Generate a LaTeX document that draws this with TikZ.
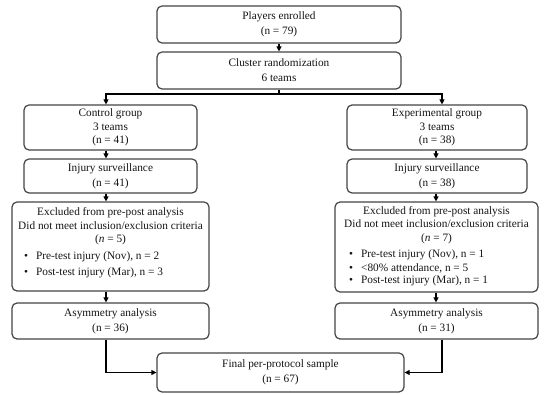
\documentclass[tikz,border=0pt]{standalone}
\usepackage{fontspec}
\setmainfont{Liberation Serif}
\usetikzlibrary{arrows.meta}
\definecolor{boxgray}{HTML}{454545}
\definecolor{txt}{HTML}{151515}
\newcommand{\myfs}{\fontsize{11.3}{15}\selectfont}
\newcommand{\myfsb}{\fontsize{11.3}{13.5}\selectfont}
\begin{document}
\begin{tikzpicture}[x=1pt,y=-1pt,
  box/.style={draw=boxgray, line width=1.2pt, rounded corners=5pt, inner sep=0pt, align=center, font=\myfs, text=txt},
  tline/.style={inner sep=0pt, font=\myfsb, text=txt, align=center},
  bline/.style={inner sep=0pt, font=\myfsb, text=txt, anchor=west},
  arr/.style={line width=1.2pt, draw=black, -{Triangle[length=5pt,width=5pt]}},
  ln/.style={line width=1.2pt, draw=black}
]
\useasboundingbox[fill=white] (0,0) rectangle (550,395);

% boxes
\node[box, minimum width=244pt, minimum height=37pt] (enr) at (279,24.5) {Players enrolled\\(n = 79)};
\node[box, minimum width=244pt, minimum height=37pt] (rand) at (279,70.5) {Cluster randomization\\6 teams};
\node[box, font=\myfsb, minimum width=173pt, minimum height=45pt] (ctrl) at (110.5,127.5) {Control group\\3 teams\\(n = 41)};
\node[box, font=\myfsb, minimum width=180pt, minimum height=45pt] (exp) at (437,127.5) {Experimental group\\3 teams\\(n = 38)};
\node[box, minimum width=173pt, minimum height=34pt] (injL) at (110.5,176) {Injury surveillance\\(n = 41)};
\node[box, minimum width=180pt, minimum height=34pt] (injR) at (437,176) {Injury surveillance\\(n = 38)};
\node[box, minimum width=197pt, minimum height=89pt] (exL) at (110.5,246.5) {};
\node[box, minimum width=203pt, minimum height=90pt] (exR) at (436.5,247) {};
\node[box, minimum width=197pt, minimum height=36pt] (asL) at (110.5,321) {Asymmetry analysis\\(n = 36)};
\node[box, minimum width=203pt, minimum height=36pt] (asR) at (436.5,321) {Asymmetry analysis\\(n = 31)};
\node[box, minimum width=247pt, minimum height=39pt] (fin) at (280.5,372.5) {Final per-protocol sample\\(n = 67)};

% excluded texts
\node[tline] (exLh) at (110.5,226.5) {Excluded from pre-post analysis\\Did not meet inclusion/exclusion criteria\\(\textit{n} = 5)};
\node[bline] (exLb1) at (24,257) {\textbullet\hspace{8pt}Pre-test injury (Nov), n = 2};
\node[bline] (exLb2) at (24,273) {\textbullet\hspace{8pt}Post-test injury (Mar), n = 3};
\node[tline] (exRh) at (436.5,225) {Excluded from pre-post analysis\\Did not meet inclusion/exclusion criteria\\(\textit{n} = 7)};
\node[bline] (exRb1) at (349,255) {\textbullet\hspace{8pt}Pre-test injury (Nov), n = 1};
\node[bline] (exRb2) at (349,268) {\textbullet\hspace{8pt}\textless80\% attendance, n = 5};
\node[bline] (exRb3) at (349,281) {\textbullet\hspace{8pt}Post-test injury (Mar), n = 1};

% connector columns
\coordinate (lx) at (106,0);
\coordinate (rx) at (442,0);
\coordinate (rix) at (436,0);
\coordinate (br) at (279,94);

\draw[arr] (enr) -- (rand);
\draw[ln] (rand.south) -- (br);
\draw[arr] (br) -| (ctrl.north -| lx);
\draw[arr] (br) -| (exp.north -| rx);
\draw[arr] (ctrl.south -| lx) -- (injL.north -| lx);
\draw[arr] (injL.south -| lx) -- (exL.north -| lx);
\draw[arr] (exL.south -| lx) -- (asL.north -| lx);
\draw[arr] (exp.south -| rix) -- (injR.north -| rix);
\draw[arr] (injR.south -| rix) -- (exR.north -| rix);
\draw[arr] (exR.south -| rix) -- (asR.north -| rix);
\draw[arr] (asL.south -| lx) |- (fin.west);
\draw[arr] (asR.south -| rx) |- (fin.east);
\end{tikzpicture}
\end{document}
